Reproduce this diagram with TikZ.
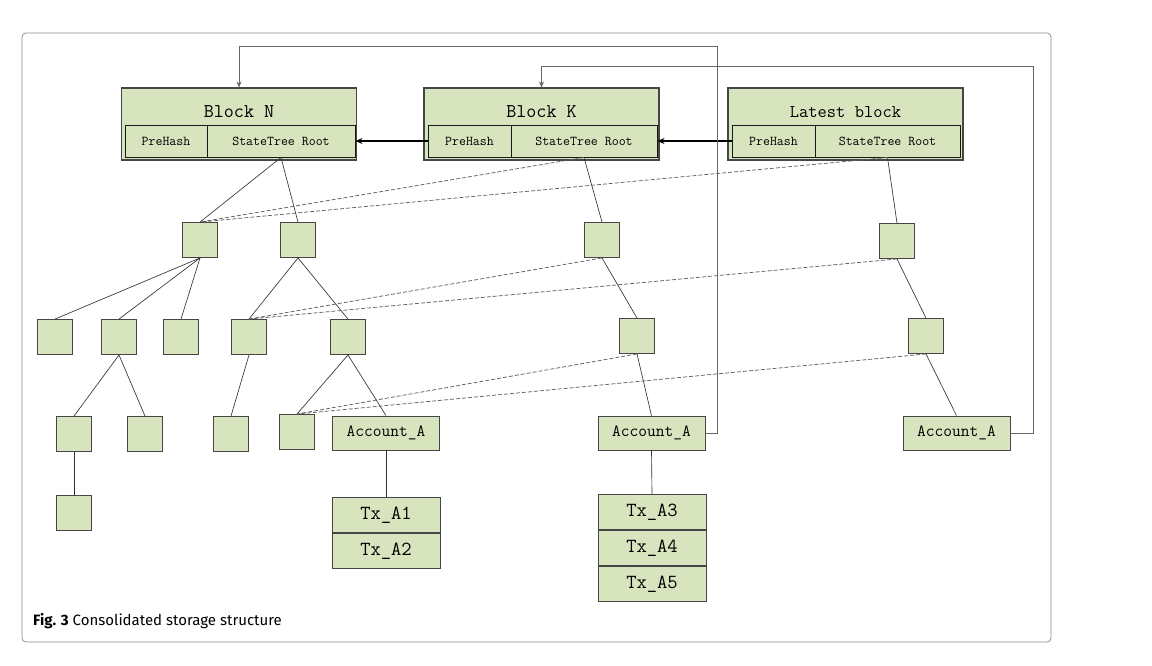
\documentclass[tikz,border=0pt]{standalone}
\usepackage{fontspec}
\newfontfamily\capfont{Fira Sans}
\usetikzlibrary{arrows.meta}
\definecolor{boxfill}{RGB}{215,228,189}
\definecolor{boxdraw}{RGB}{70,70,70}
\definecolor{linegray}{RGB}{50,50,50}
\tikzset{
  sq/.style={draw=boxdraw, fill=boxfill, line width=0.9pt, minimum width=35pt, minimum height=35pt, inner sep=0pt},
  blk/.style={draw=boxdraw, fill=boxfill, line width=1.1pt, minimum width=235pt, minimum height=72pt, inner sep=0pt},
  cell/.style={draw=black!90, fill=boxfill, line width=1pt, minimum height=32pt, inner sep=0pt, font=\ttfamily\fontsize{13.5}{15}\selectfont},
  acc/.style={draw=boxdraw, fill=boxfill, line width=0.9pt, minimum width=107pt, minimum height=34pt, inner sep=0pt, font=\ttfamily\fontsize{17}{18}\selectfont},
  tx/.style={draw=boxdraw, fill=boxfill, line width=0.9pt, minimum width=108pt, minimum height=35pt, inner sep=0pt, font=\ttfamily\fontsize{20}{22}\selectfont},
  title/.style={inner sep=0pt, font=\ttfamily\fontsize{19.5}{21}\selectfont},
  edge/.style={draw=linegray, line width=0.65pt},
  dedge/.style={draw=black!62, line width=0.75pt, dash pattern=on 4pt off 2pt},
  link/.style={draw=black!60, line width=0.8pt, -{Stealth[length=6pt,width=5pt]}},
  prev/.style={draw=black, line width=1.5pt, -{Stealth[length=7pt,width=6pt]}},
}
\begin{document}
\begin{tikzpicture}[x=1pt,y=-1pt]
\useasboundingbox (0,0) rectangle (1152,665);
\draw[black!45, line width=0.8pt, rounded corners=4pt] (22,33) rectangle (1051,642);

% blocks
\node[blk] (bn) at (239,124) {};
\node[title] (bnt) at (239,112) {Block N};
\node[cell, minimum width=82pt] (phN) at (166,141) {PreHash};
\node[cell, minimum width=148pt] (stN) at (281,141) {StateTree Root};

\node[blk] (bk) at (541.5,124) {};
\node[title] (bkt) at (541.5,112) {Block K};
\node[cell, minimum width=83pt] (phK) at (469.5,141) {PreHash};
\node[cell, minimum width=146pt] (stK) at (584,141) {StateTree Root};

\node[blk] (bl) at (845.5,124) {};
\node[title, font=\ttfamily\fontsize{18}{20}\selectfont] (blt) at (845.5,112) {Latest block};
\node[cell, minimum width=83pt] (phL) at (773.5,141) {PreHash};
\node[cell, minimum width=145pt] (stL) at (887.5,141) {StateTree Root};

% tree nodes
\node[sq] (a1) at (200,240) {};
\node[sq] (a2) at (298,240) {};
\node[sq] (k1) at (602,240) {};
\node[sq] (l1) at (897,241) {};

\node[sq] (b1) at (55,337) {};
\node[sq] (b2) at (119,337) {};
\node[sq] (b3) at (181,337) {};
\node[sq] (b4) at (249,337) {};
\node[sq] (b5) at (348,337) {};
\node[sq] (k2) at (637,336) {};
\node[sq] (l2) at (926,336) {};

\node[sq] (c1) at (74,434) {};
\node[sq] (c2) at (145,434) {};
\node[sq] (c3) at (231,434) {};
\node[sq] (c4) at (297,432) {};
\node[acc] (accN) at (386,433) {Account\_A};
\node[acc] (accK) at (651.5,433) {Account\_A};
\node[acc] (accL) at (956.5,433) {Account\_A};

\node[sq] (d1) at (74,513) {};

\node[tx] (tx1) at (386,515) {Tx\_A1};
\node[tx, anchor=north] (tx2) at (tx1.south) {Tx\_A2};
\node[tx] (tx3) at (652,512) {Tx\_A3};
\node[tx, anchor=north] (tx4) at (tx3.south) {Tx\_A4};
\node[tx, anchor=north] (tx5) at (tx4.south) {Tx\_A5};

% solid tree edges
\draw[edge] (stN.south) -- (a1.north);
\draw[edge] (stN.south) -- (a2.north);
\draw[edge] (stK.south) -- (k1.north);
\draw[edge] (stL.south) -- (l1.north);
\draw[edge] (a1.south) -- (b1.north);
\draw[edge] (a1.south) -- (b2.north);
\draw[edge] (a1.south) -- (b3.north);
\draw[edge] (a2.south) -- (b4.north);
\draw[edge] (a2.south) -- (b5.north);
\draw[edge] (k1.south) -- (k2.north);
\draw[edge] (l1.south) -- (l2.north);
\draw[edge] (b2.south) -- (c1.north);
\draw[edge] (b2.south) -- (c2.north);
\draw[edge] (b4.south) -- (c3.north);
\draw[edge] (b5.south) -- (c4.north);
\draw[edge] (b5.south) -- (accN.north);
\draw[edge] (k2.south) -- (accK.north);
\draw[edge] (l2.south) -- (accL.north);
\draw[edge] (c1.south) -- (d1.north);
\draw[edge] (accN.south) -- (tx1.north);
\draw[edge] (accK.south) -- (tx3.north);

% dashed shared references
\draw[dedge] (stK.south) -- (a1.north);
\draw[dedge] (stL.south) -- (a1.north);
\draw[dedge] (k1.south) -- (b4.north);
\draw[dedge] (l1.south) -- (b4.north);
\draw[dedge] (k2.south) -- (c4.north);
\draw[dedge] (l2.south) -- (c4.north);

% previous-hash arrows
\draw[prev] (phK.west) -- (stN.east);
\draw[prev] (phL.west) -- (stK.east);

% account back-links
\coordinate (t1) at (717,46);
\coordinate (t2) at (1033,66);
\draw[link] (accK.east) -| (t1) -| (bn.north);
\draw[link] (accL.east) -| (t2) -| (bk.north);

% caption
\node[anchor=west, inner sep=0pt, font=\capfont\fontsize{15}{17}\selectfont] (cap) at (33,621) {\textbf{Fig. 3} Consolidated storage structure};
\end{tikzpicture}
\end{document}
